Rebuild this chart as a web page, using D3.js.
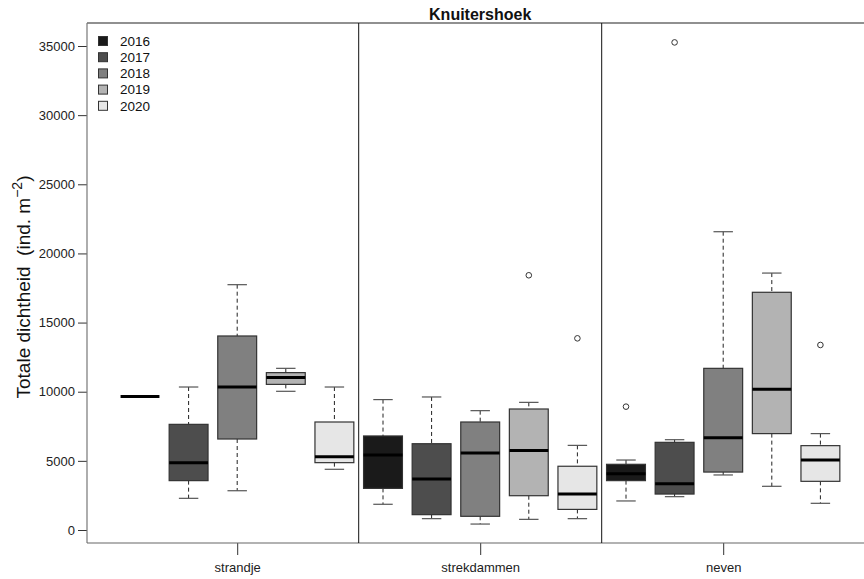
<!DOCTYPE html>
<html><head><meta charset="utf-8">
<script src="https://cdn.jsdelivr.net/npm/d3@7"></script>
<style>html,body{margin:0;padding:0;background:#fff;}svg{display:block;}</style>
</head><body><svg id="c" width="864" height="579"></svg>
<script>
const sites = ["strandje", "strekdammen", "neven"];
const years = ["2016", "2017", "2018", "2019", "2020"];
const yearColors = ["#1a1a1a", "#4d4d4d", "#808080", "#b3b3b3", "#e6e6e6"];
// [min, q1, median, q3, max] per site, one array per year
const stats2016 = [[9650, 9650, 9650, 9650, 9650], [1860, 3010, 5420, 6800, 9430], [2100, 3570, 4070, 4750, 5060]];
const stats2017 = [[2290, 3570, 4870, 7640, 10340], [820, 1110, 3690, 6240, 9620], [2410, 2600, 3350, 6340, 6530]];
const stats2018 = [[2840, 6580, 10340, 14030, 17740], [430, 990, 5570, 7810, 8630], [3980, 4190, 6680, 11690, 21570]];
const stats2019 = [[10030, 10530, 11020, 11380, 11690], [770, 2480, 5740, 8750, 9230], [3160, 6970, 10170, 17190, 18580]];
const stats2020 = [[4390, 4870, 5300, 7810, 10340], [820, 1490, 2600, 4610, 6120], [1930, 3520, 5060, 6100, 6970]];
// outliers per site, one array per year
const out2016 = [[], [], [8920]];
const out2017 = [[], [], [35260]];
const out2018 = [[], [], []];
const out2019 = [[], [18420], []];
const out2020 = [[], [13860], [13380]];
const yTicks = [0, 5000, 10000, 15000, 20000, 25000, 30000, 35000];

const allStats = [stats2016, stats2017, stats2018, stats2019, stats2020];
const allOut = [out2016, out2017, out2018, out2019, out2020];

const boxes = [];
sites.forEach((s, si) => {
  years.forEach((yr, yi) => {
    const st = allStats[yi][si];
    boxes.push({site: s, year: yr, yi, pos: si * years.length + yi + 1,
      min: st[0], q1: st[1], med: st[2], q3: st[3], max: st[4], out: allOut[yi][si]});
  });
});

const svg = d3.select("#c");
const L = 87, T = 23, B = 543, R = 880;
const x = d3.scaleLinear().domain([1, 15]).range([140, 820.4]);
const y = d3.scaleLinear().domain([0, 35000]).range([530, 46]);
const bw = (x(2) - x(1)) * 0.8;
const font = "'Liberation Sans', Arial, sans-serif";

// y axis
const yAxis = svg.append("g").attr("transform", `translate(${L - 9},0)`)
  .call(d3.axisLeft(y).tickValues(yTicks).tickSize(9).tickPadding(3).tickFormat(d3.format("d")));
yAxis.select(".domain").remove();
yAxis.selectAll(".tick line").attr("stroke", "#333").attr("transform", "translate(9,0)");
yAxis.selectAll(".tick text").attr("font-family", font).attr("font-size", 13).attr("fill", "#222").attr("x", -3);

// x axis
const groupCenters = sites.map((s, i) => ({site: s, pos: i * years.length + 3}));
const xAxis = svg.append("g").attr("transform", `translate(0,${B})`)
  .call(d3.axisBottom(x).tickValues(groupCenters.map(d => d.pos)).tickSize(12).tickPadding(8)
    .tickFormat((d, i) => sites[i]));
xAxis.select(".domain").remove();
xAxis.selectAll(".tick line").attr("stroke", "#333");
xAxis.selectAll(".tick text").attr("font-family", font).attr("font-size", 13).attr("fill", "#222");

// frame
svg.append("line").attr("x1", L).attr("x2", R).attr("y1", T).attr("y2", T).attr("stroke", "#222").attr("stroke-width", 1.2);
svg.append("line").attr("x1", L).attr("x2", L).attr("y1", T).attr("y2", B).attr("stroke", "#777").attr("stroke-width", 1.2);
svg.append("line").attr("x1", L).attr("x2", R).attr("y1", B).attr("y2", B).attr("stroke", "#666").attr("stroke-width", 1.2);
// separators between sites
[1, 2].forEach(k => {
  const sx = x(k * years.length + 0.5);
  svg.append("line").attr("x1", sx).attr("x2", sx).attr("y1", T).attr("y2", B).attr("stroke", "#111").attr("stroke-width", 1);
});

// boxes
const g = svg.append("g");
boxes.forEach(b => {
  const cx = x(b.pos);
  const bg = g.append("g");
  bg.append("line").attr("x1", cx).attr("x2", cx).attr("y1", y(b.max)).attr("y2", y(b.q3))
    .attr("stroke", "#222").attr("stroke-dasharray", "4,3");
  bg.append("line").attr("x1", cx).attr("x2", cx).attr("y1", y(b.q1)).attr("y2", y(b.min))
    .attr("stroke", "#222").attr("stroke-dasharray", "4,3");
  [b.max, b.min].forEach(v => {
    bg.append("line").attr("x1", cx - bw / 4).attr("x2", cx + bw / 4).attr("y1", y(v)).attr("y2", y(v))
      .attr("stroke", "#555").attr("stroke-width", 1.2);
  });
  bg.append("rect").attr("x", cx - bw / 2).attr("width", bw).attr("y", y(b.q3)).attr("height", Math.max(0, y(b.q1) - y(b.q3)))
    .attr("fill", yearColors[b.yi]).attr("stroke", "#333").attr("stroke-width", 1.2);
  bg.append("line").attr("x1", cx - bw / 2).attr("x2", cx + bw / 2).attr("y1", y(b.med)).attr("y2", y(b.med))
    .attr("stroke", "#000").attr("stroke-width", 3);
  b.out.forEach(v => {
    bg.append("circle").attr("cx", cx).attr("cy", y(v)).attr("r", 2.8).attr("fill", "none").attr("stroke", "#333").attr("stroke-width", 1);
  });
});

// title
svg.append("text").attr("x", x(8)).attr("y", 20).attr("text-anchor", "middle")
  .attr("font-family", font).attr("font-weight", "bold").attr("font-size", 16).attr("fill", "#111").text("Knuitershoek");

// y label
const yl = svg.append("text").attr("transform", `translate(30,${(T + B) / 2 + 4}) rotate(-90)`)
  .attr("text-anchor", "middle").attr("font-family", font).attr("font-size", 19).attr("fill", "#111")
  .style("white-space", "pre");
yl.append("tspan").text("Totale dichtheid  (ind. m");
yl.append("tspan").attr("dy", -8).attr("font-size", 14).text("\u22122");
yl.append("tspan").attr("dy", 8).text(")");

// legend
const lg = svg.append("g");
years.forEach((yr, i) => {
  const ly = 41 + i * 16.2;
  lg.append("rect").attr("x", 98.5).attr("y", ly - 4.5).attr("width", 9).attr("height", 9)
    .attr("fill", yearColors[i]).attr("stroke", "#333").attr("stroke-width", 1);
  lg.append("text").attr("x", 120).attr("y", ly).attr("dy", "0.36em").attr("font-family", font)
    .attr("font-size", 13.5).attr("fill", "#111").text(yr);
});
</script></body></html>
